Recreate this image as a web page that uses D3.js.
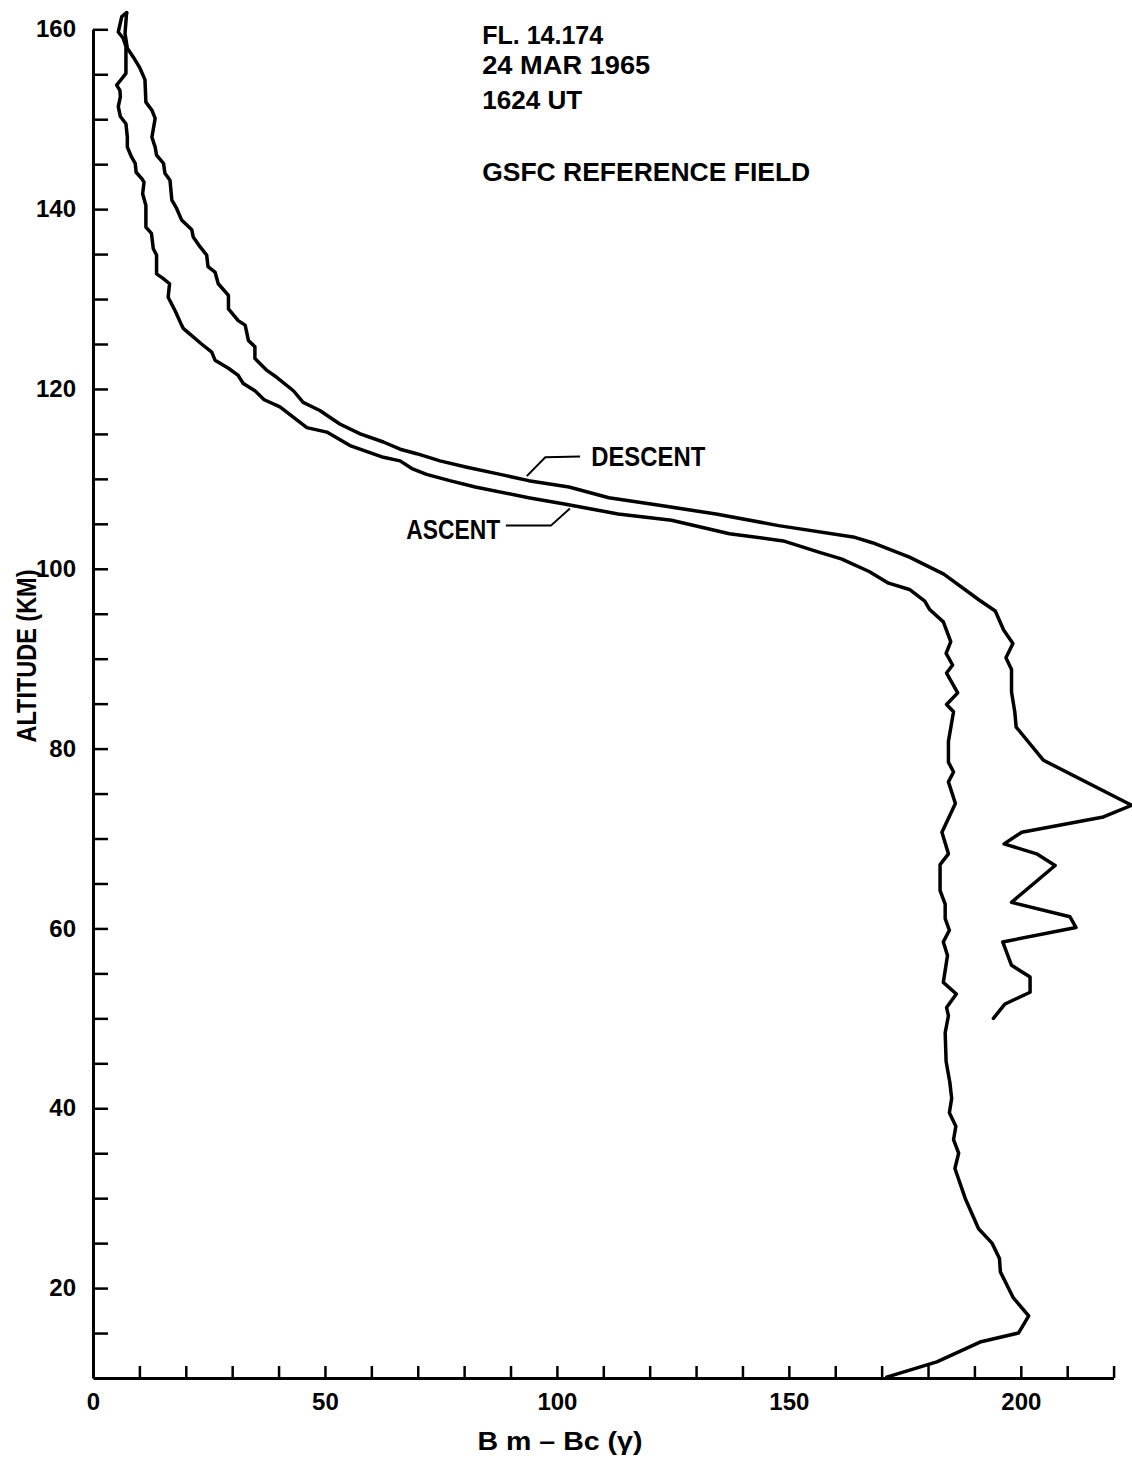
<!DOCTYPE html>
<html lang="en">
<head>
    <meta charset="UTF-8">
    <title>FL. 14.174 Bm - Bc profile</title>
    <script src="https://d3js.org/d3.v7.min.js"></script>
    <style>
        body {
            margin: 0;
            padding: 0;
            background: #fff;
        }
        svg text {
            font-family: "Liberation Sans", Arial, sans-serif;
            font-weight: bold;
            fill: #000;
        }
        .axis path, .axis line {
            stroke: #000;
        }
        .axis path {
            stroke-width: 3;
        }
        .axis line {
            stroke-width: 2.5;
        }
        .curve {
            fill: none;
            stroke: #000;
            stroke-width: 3.5;
            stroke-linejoin: round;
            stroke-linecap: round;
        }
        .leader {
            fill: none;
            stroke: #000;
            stroke-width: 2;
        }
    </style>
</head>
<body>
    <svg id="chart"></svg>

    <script>
        // [altitude km, Bm - Bc gamma]
        const ascent = [
            [10.1, 171.1], [11.8, 181.9], [14.0, 191.2], [15.0, 199.5], [16.9, 201.7],
            [18.9, 198.4], [21.8, 195.6], [23.3, 195.4], [25.0, 193.8], [26.6, 190.9],
            [30.0, 188.0], [33.3, 185.8], [35.0, 186.6], [36.5, 185.5], [38.0, 186.0],
            [39.5, 184.6], [41.1, 185.1], [42.9, 184.7], [45.2, 183.9], [48.4, 183.7],
            [50.3, 184.4], [51.2, 184.0], [52.7, 186.1], [54.0, 183.3], [57.0, 184.2],
            [58.5, 183.3], [59.8, 184.6], [61.1, 183.7], [62.7, 183.7], [64.2, 182.6],
            [67.1, 182.6], [68.3, 184.4], [70.7, 183.0], [73.9, 185.9], [76.3, 184.4],
            [77.4, 185.5], [78.5, 184.4], [80.8, 184.4], [84.1, 185.5], [84.9, 184.0],
            [86.2, 186.4], [88.4, 184.0], [89.3, 185.3], [90.6, 183.9], [91.9, 184.9],
            [94.1, 183.3], [95.5, 180.3], [96.4, 179.3], [97.7, 176.0], [98.4, 171.5],
            [99.7, 167.3], [101.1, 161.3], [101.8, 156.8], [103.1, 148.8], [103.9, 137.2],
            [105.4, 124.7], [106.1, 113.2], [107.2, 101.6], [107.9, 93.9], [109.1, 82.4],
            [109.8, 76.9], [110.5, 71.9], [111.1, 68.9], [112.0, 66.2], [112.4, 62.6],
            [113.7, 55.4], [115.2, 50.4], [115.7, 46.1], [118.0, 40.3], [118.8, 36.9],
            [119.8, 34.9], [120.6, 32.4], [121.5, 31.3], [122.3, 29.2], [123.2, 26.3],
            [124.1, 25.6], [125.0, 23.4], [126.1, 20.9], [126.7, 19.5], [127.1, 19.1],
            [128.7, 17.7], [130.2, 16.2], [131.7, 16.5], [132.3, 15.1], [132.8, 13.7],
            [134.9, 13.7], [135.6, 13.0], [137.3, 12.6], [138.0, 11.4], [140.4, 11.4],
            [141.7, 10.7], [143.0, 11.0], [143.4, 10.5], [144.1, 9.3], [145.1, 9.1],
            [145.8, 8.3], [146.9, 7.4], [148.0, 7.4], [149.5, 7.1], [150.3, 5.9],
            [151.4, 5.45], [152.5, 5.9], [153.2, 5.8], [153.8, 5.1], [154.5, 6.2],
            [155.1, 7.1], [158.1, 7.1], [159.0, 6.5], [159.7, 5.45], [161.4, 6.2],
            [161.85, 7.25]
        ];

        const descent = [
            [161.85, 7.25], [159.55, 6.9], [157.9, 7.4], [156.9, 8.7], [155.7, 10.1],
            [154.4, 11.2], [151.9, 11.4], [151.0, 12.7], [150.1, 13.4], [148.0, 12.7],
            [146.9, 13.4], [146.0, 13.7], [145.1, 15.2], [144.0, 15.5], [143.2, 16.6],
            [141.0, 17.0], [140.1, 18.0], [138.8, 19.1], [137.7, 21.3], [136.9, 21.6],
            [135.8, 23.1], [134.9, 24.5], [133.6, 24.8], [133.0, 26.3], [131.7, 27.0],
            [130.4, 29.2], [128.9, 29.2], [127.6, 31.3], [127.1, 32.8], [125.4, 33.5],
            [124.7, 34.9], [123.4, 34.9], [122.1, 37.4], [121.3, 39.6], [119.8, 43.2],
            [118.5, 45.3], [117.6, 48.9], [116.1, 53.2], [115.0, 57.6], [114.1, 62.6],
            [113.3, 66.2], [112.8, 69.8], [112.0, 74.8], [111.3, 80.6], [110.5, 87.8],
            [109.8, 93.9], [109.1, 102.6], [107.9, 111.2], [107.0, 122.8], [106.1, 134.3],
            [104.8, 147.8], [103.5, 164.2], [102.9, 168.0], [101.3, 176.0], [99.4, 183.4],
            [96.5, 191.1], [95.3, 194.5], [93.2, 196.3], [91.7, 198.3], [90.1, 196.8],
            [88.8, 198.0], [86.3, 198.0], [84.1, 198.7], [82.4, 199.0], [78.7, 204.9],
            [73.7, 223.9], [72.4, 217.8], [70.7, 200.2], [69.4, 196.4], [68.3, 203.4],
            [67.0, 207.4], [62.9, 198.0], [61.3, 210.6], [60.1, 211.9], [58.5, 196.1],
            [55.9, 198.0], [54.6, 202.0], [52.9, 202.0], [51.6, 196.6], [50.0, 194.1]
        ];

        const xTicks = d3.range(0, 221, 10);
        const yTicks = d3.range(15, 161, 5);
        const xLabelEvery = 50;
        const yLabelEvery = 20;

        const titleLines = ["FL. 14.174", "24 MAR 1965", "1624 UT", "GSFC REFERENCE FIELD"];
        const titleAlts = [158.4, 155.0, 151.1, 143.1];
        const titleWidths = [121, 168, 100, 328];

        // Canvas
        const W = 1132, H = 1463;
        const svg = d3.select("#chart").attr("width", W).attr("height", H);
        svg.append("rect").attr("width", W).attr("height", H).attr("fill", "#fff");

        // Scales (tuned to the original drawing)
        const x = d3.scaleLinear().domain([0, 220]).range([93, 93 + 220 * 4.639]);
        const y = d3.scaleLinear().domain([10, 160]).range([1378, 29.3]);

        // Axes, ticks point inward
        svg.append("g")
            .attr("class", "axis")
            .attr("transform", `translate(0,${y(10)})`)
            .call(d3.axisBottom(x).tickValues(xTicks).tickSize(-12).tickSizeOuter(0).tickPadding(15)
                .tickFormat(d => d % xLabelEvery === 0 ? d : ""))
            .call(g => g.selectAll("text").attr("font-size", 24));

        svg.append("g")
            .attr("class", "axis")
            .attr("transform", `translate(${x(0)},0)`)
            .call(d3.axisLeft(y).tickValues(yTicks).tickSize(-15).tickSizeOuter(0).tickPadding(17)
                .tickFormat(d => d % yLabelEvery === 0 ? d : ""))
            .call(g => g.selectAll("text").attr("font-size", 24));

        // Axis titles
        svg.append("text")
            .attr("transform", "translate(36,656) rotate(-90)")
            .attr("text-anchor", "middle")
            .attr("font-size", 28)
            .attr("textLength", 173)
            .attr("lengthAdjust", "spacingAndGlyphs")
            .text("ALTITUDE (KM)");

        svg.append("text")
            .attr("x", 560)
            .attr("y", 1450)
            .attr("text-anchor", "middle")
            .attr("font-size", 25)
            .attr("textLength", 165)
            .attr("lengthAdjust", "spacingAndGlyphs")
            .text("B m \u2013 Bc (\u03b3)");

        // Curves
        const line = d3.line().x(d => x(d[1])).y(d => y(d[0]));
        svg.append("path").attr("class", "curve").attr("d", line(ascent));
        svg.append("path").attr("class", "curve").attr("d", line(descent));

        // Labels with leader lines
        const descentLeader = [[110.3, 93.5], [112.4, 97.5], [112.5, 105.0]];
        const ascentLeader = [[104.8, 89.0], [104.8, 98.7], [106.7, 102.8]];
        svg.append("path").attr("class", "leader").attr("d", line(descentLeader));
        svg.append("path").attr("class", "leader").attr("d", line(ascentLeader));

        svg.append("text")
            .attr("x", x(107.4)).attr("y", y(111.4))
            .attr("font-size", 28)
            .attr("textLength", 114)
            .attr("lengthAdjust", "spacingAndGlyphs")
            .text("DESCENT");

        svg.append("text")
            .attr("x", x(87.8)).attr("y", y(103.3))
            .attr("text-anchor", "end")
            .attr("font-size", 28)
            .attr("textLength", 94)
            .attr("lengthAdjust", "spacingAndGlyphs")
            .text("ASCENT");

        // Flight info block
        titleLines.forEach((t, i) => {
            svg.append("text")
                .attr("x", x(83.9))
                .attr("y", y(titleAlts[i]))
                .attr("font-size", 25)
                .attr("textLength", titleWidths[i])
                .attr("lengthAdjust", "spacingAndGlyphs")
                .text(t);
        });
    </script>
</body>
</html>
